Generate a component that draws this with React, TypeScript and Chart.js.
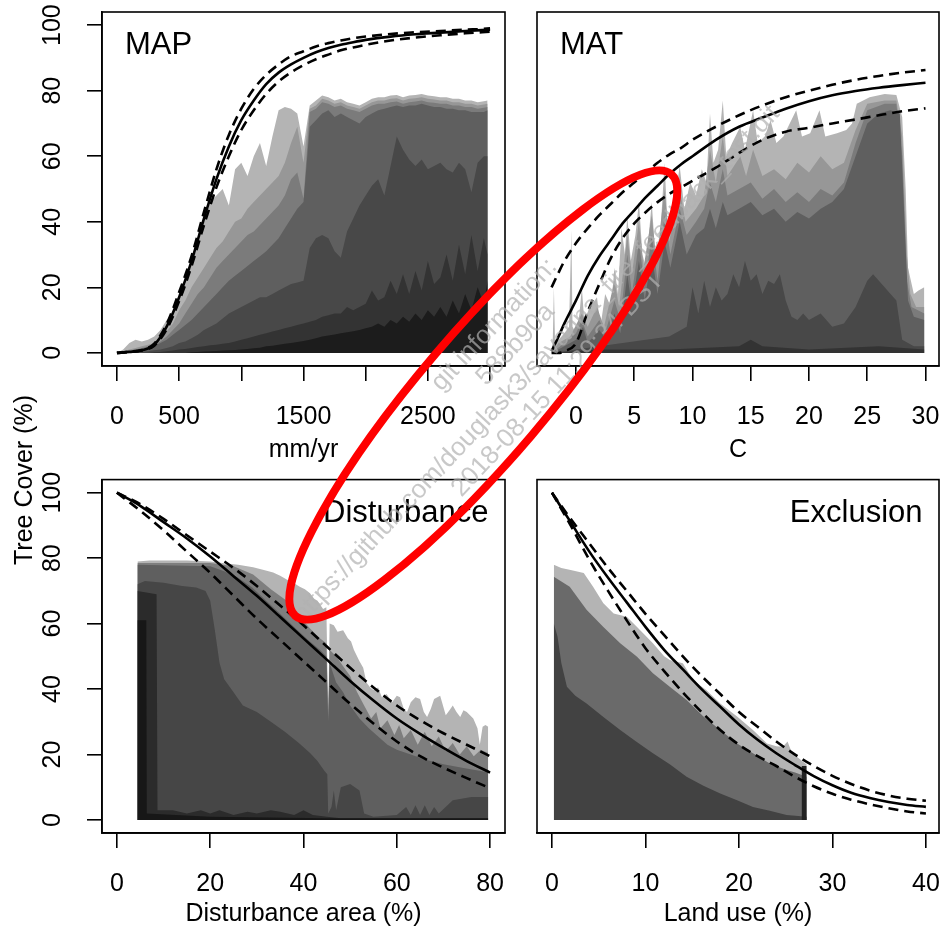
import React, { useEffect, useRef } from 'react';
import { Chart, registerables } from 'chart.js';

Chart.register(...registerables);

const FONT = '"Liberation Sans", Arial, Helvetica, sans-serif';

// ---------------- MAP panel ----------------
const MAP_X = [0,50,100,150,200,250,300,350,400,450,500,550,600,650,700,750,800,850,900,950,1000,1050,1100,1150,1200,1250,1300,1350,1400,1450,1500,1550,1600,1650,1700,1750,1800,1850,1900,1950,2000,2050,2100,2150,2200,2250,2300,2350,2400,2450,2500,2550,2600,2650,2700,2750,2800,2850,2900,2950,2980];
const MAP_A = [0,1,3,4,3.5,4,5,7,10,12, 17,21,27,33,40,46,48,50,45,56, 58,54,60,64,57,66,74,75,74.5,73, 63,75.5,77,78.5,78,77,77.5,76.5,76,75.5, 76.5,77.5,78,78,78.5,78.7,78,78.5,78.7,79, 78.5,78.3,78,78,77.5,77.5,77,77,76.5,76.8, 77];
const MAP_B = [0,0.5,1,1.5,2,2.5,3,4.5,6.5,9, 13,16,20,23,26,29,32,34,37,40, 41,44,46,48,50,52,54,58,64,69, 58,74.5,75.5,77.5,77,76,76.5,75.5,75,74.5, 75.5,76.5,77,77,77.5,77.7,77,77.5,77.7,78, 77.5,77.3,77,77,76.5,76.5,76,76,75.5,75.8, 76];
const MAP_C = [0,0,0.5,1,1.5,2,2.5,3.5,5,7, 9,12,15,18,20,23,26,28,30,32, 34,36,37,39,41,43,45,48,53,55, 47,73.5,74.5,76.5,76,75,75.5,74.5,74,73.5, 74.5,75.5,76,76,76.5,76.7,76,76.5,76.7,77, 76.5,76.3,76,76,75.5,75.5,75,75,74.5,74.8, 75];
const MAP_D = [0,0,0,0.5,1,1.5,2,3,4,5.5, 7,8.5,10,12,14,16,18,20,22,23.5, 25,26.5,28,29.5,31,33,35,38,41,44, 46,69,71,73,74,72,73,72,71,70, 72,73,74,74.5,75,75.5,75,75.5,75.5,76, 75.5,75,75,74.5,74.5,74,74,73.5,73.5,73.5, 74];
const MAP_E = [0,0,0,0,0.3,0.5,0.8,1,1.5,2, 3,3.5,4.5,5.5,7,8,9,10.5,12,13, 14,15,16,17,17,18,19,20,21,21.5, 22,32,35,36,35,31,29,37,41,45, 48,51,53,48,57,66,62,59,57,59, 56,57,58,56,55,58,56,49,58,60, 60];
const MAP_F = [0,0,0,0,0,0,0.2,0.3,0.5,0.7, 1,1.2,1.5,1.8,2,2.3,2.5,2.8,3,3.5, 4,4.5,5,5.5,6,6.5,7,7.5,8,8.5, 9,9.5,10,11,11.5,12,12,14,13,14, 15,19,16,17,22,18,24,18,25,19, 28,21,23,30,22,33,24,36,25,35, 30];
const MAP_G = [0,0,0,0,0,0,0,0,0,0, 0,0,0.2,0.3,0.4,0.5,0.6,0.7,0.8,0.9, 1,1.2,1.4,1.6,2,2.2,2.5,2.8,3,3.3, 3.6,4,4.5,5,5.3,5.6,6,6.3,6.6,7, 7.5,8,9,8,10,9,11,9.5,12,10, 13,11,14,11,16,12,18,13,20,15, 22];
const MAP_CURVE_X = [0,100,200,300,400,500,600,700,800,900,1000,1100,1200,1300,1400,1500,1600,1700,1800,1900,2000,2200,2400,2600,2800,3000];
const MAP_FIT = [0,0.3,0.8,2.5,8,17,28,41,53,63,71,77,82,85.5,88,90,91.7,93,94,94.8,95.5,96.5,97.2,97.7,98.2,98.6];
const MAP_UPPER = [0,0.35,0.9,2.8,8.8,18.5,29.5,43,56,66.5,74.5,80.5,84.8,88,90.5,92,93.5,94.5,95.3,96,96.5,97.3,97.8,98.2,98.6,99];
const MAP_LOWER = [0,0.25,0.7,2.2,7.2,15.8,26.5,39,50.5,60,68,74,79,82.8,85.6,87.8,89.6,91,92.3,93.2,94,95.3,96.2,96.9,97.5,98];
const MAP_TICKS = [0,500,1000,1500,2000,2500,3000];
const MAP_TICK_LABELS = ['0','500','','1500','','2500',''];

// ---------------- MAT panel ----------------
const MAT_L1: [number, number][] = [[-2.1,0],[-2,3],[-1.9,20],[-1.8,3],[-1.2,5],[-0.6,8],[-0.4,37.5],[-0.3,8],[0,6],[0.3,12],[0.5,20],[0.7,10],[1.2,14],[1.8,17],[2.1,8],[2.5,18],[3,14],[3.3,26],[3.6,18],[3.9,38],[4.2,30],[4.4,42],[4.7,28],[5.1,36],[5.4,46],[5.7,30],[6,26],[6.5,46],[6.8,30],[7.2,34],[7.6,58],[7.9,36],[8.4,44],[8.9,57],[9.3,44],[9.8,52],[10.3,48],[10.8,56],[11.2,52],[11.5,73],[11.8,58],[12.2,62],[12.6,77],[12.9,60],[13.4,64],[14.1,69],[14.5,62],[15.2,74],[15.6,64],[16.2,66],[16.7,71],[17.2,64],[17.8,66],[18.9,74],[19.4,66],[20.1,67],[20.9,74],[21.4,66],[22.4,67],[23.2,68],[23.7,70],[24.1,76],[25.2,78],[26.5,79],[27.5,78.7],[28,72],[28.3,50],[28.5,26],[29,18],[29.4,19],[29.9,20]];
const MAT_L2: [number, number][] = [[-2.1,0],[-1.5,3],[-0.5,5],[0.5,12],[1,8],[1.8,14],[2.4,8],[3.3,22],[3.7,14],[4.4,36],[4.8,24],[5.4,40],[5.8,26],[6.5,42],[6.9,28],[7.6,50],[8,34],[8.9,50],[9.4,40],[10.3,44],[11,48],[11.5,62],[12,52],[12.6,66],[13,54],[14.1,60],[14.6,54],[15.2,62],[16,54],[17,56],[18,53],[19,58],[20,55],[21,60],[22,56],[23,58],[24,68],[25,76],[26.5,77],[27.5,77],[28,66],[28.4,30],[28.7,18],[29.2,14],[29.9,14]];
const MAT_L3: [number, number][] = [[-2.1,0],[-1,3],[0,6],[0.5,10],[1,5],[2,10],[2.5,6],[3.3,16],[3.8,10],[4.4,30],[4.8,18],[5.4,34],[5.9,20],[6.5,36],[7,22],[7.6,42],[8.1,30],[8.9,44],[9.5,36],[10.3,40],[11,44],[11.5,52],[12,46],[12.6,56],[13,48],[14,50],[15,52],[16,47],[17,50],[18,46],[19,49],[20,46],[21,50],[22,48],[23,52],[24,64],[25,74],[26.5,76],[27.5,76],[28,60],[28.4,22],[28.8,14],[29.9,12]];
const MAT_L4: [number, number][] = [[-2.1,0],[-1,2],[0,4],[0.6,8],[1,3],[2,7],[2.6,4],[3.3,12],[3.8,6],[4.4,24],[4.8,14],[5.4,28],[5.9,16],[6.5,30],[7,18],[7.6,34],[8.1,26],[8.9,40],[9.5,30],[10.3,36],[11,38],[11.5,44],[12,38],[12.6,46],[13,42],[14,44],[15,46],[16,42],[17,44],[18,40],[19,43],[20,41],[21,44],[22,46],[23,50],[24,60],[25,70],[26,73],[27,74],[27.8,73],[28.2,40],[28.5,16],[29,11],[29.9,10]];
const MAT_L5: [number, number][] = [[-2.1,0],[0,1],[2,2],[4,3],[6,4],[8,5],[9.5,8],[10,20],[10.5,12],[11,22],[11.5,14],[12,20],[12.5,16],[13,18],[13.5,24],[14,20],[14.5,28],[15,22],[15.5,24],[16,18],[16.5,22],[17,21],[17.5,24],[18,16],[18.5,11],[19,10],[19.5,12],[20,10],[21,12],[22,8],[23,9],[24,14],[25,22],[25.5,24],[26,22],[27,18],[27.5,16],[28,4],[29,2],[29.9,2]];
const MAT_L6: [number, number][] = [[-2.1,0],[2,1],[8,1],[14,2],[15,4],[16,2],[20,1],[26,2],[29.9,1]];
const MAT_CURVE_X = [-2.1,-1.5,-1,0,1,2,3,4,5,6,7,8,9,10,12,14,16,18,20,22,24,26,28,30];
const MAT_FIT = [0.5,5,9,16,23.5,29.5,34.5,39.5,43.5,47.5,51,54.5,57.5,60,65,69,71.8,74.5,76.8,78.6,79.9,80.9,81.7,82.4];
const MAT_UPPER = [20,24.5,28,33.5,38,42,45.5,49,52,55,58,60.5,62.5,65,69,72.5,75.5,78,80,81.8,83.3,84.5,85.5,86.3];
const MAT_LOWER = [0,0,0.5,3,12.5,21,29,35,39.5,43,46,48.5,50.5,52.5,56.5,61,65,67.5,68.7,70,71.2,72.5,73.7,74.6];
const MAT_TICKS = [0,5,10,15,20,25,30];

// ---------------- Disturbance panel ----------------
const DIST_L1: [number, number][] = [[4.4,79],[7,79.3],[10,79.3],[15,79.3],[20,79],[23.5,78.4],[26,78],[29.2,77.2],[31.5,76.4],[33.5,75.6],[35,74.6],[36.4,73.5],[38,72.3],[39.2,71.3],[40.3,70.5],[41.4,69.3],[42.3,67.5],[43,67],[44.2,64.5],[44.9,65],[45.3,32],[45.6,60],[46.5,59.5],[47.3,57.5],[48.5,58],[49.5,55.5],[50.2,54.5],[50.8,52],[52,48.5],[52.8,46.5],[53.5,42],[54.3,40.5],[55,39.7],[56,40.5],[56.8,37.5],[57.8,38.5],[59,36],[60,38],[60.7,37.5],[61.5,34],[62.2,33],[63,36],[64,37.5],[65,37],[65.8,33],[66.5,31.5],[67.3,34],[68,37],[69.3,38],[70.5,32],[71.3,33.5],[72,35],[72.8,33],[73.6,31.5],[74.3,33.5],[75,33],[76.4,31],[77.3,28],[77.8,23],[78.4,28.5],[79,29],[79.6,28.5]];
const DIST_L2: [number, number][] = [[4.4,78.5],[20,78.5],[25,77.5],[29.2,75],[33,70.5],[36.4,67],[39,62.5],[41.4,58.5],[43.5,55.5],[44.9,54],[45.3,31],[45.6,52],[47,50],[48.5,47],[50,44],[51.5,39],[53,35],[54.5,31],[55.6,33],[56.5,28],[58,30.5],[59.5,26],[60.5,29],[61.5,25],[63,27.5],[64.5,23],[66,27],[67.5,22.5],[69,25.5],[70.5,21],[72,23.5],[73.5,20],[75,22.5],[76.5,19.5],[78,21.5],[79.6,20.5]];
const DIST_L3: [number, number][] = [[4.4,78],[20,77.5],[23,76],[26,74],[29,71],[32,67],[35,63],[38,59],[41,55],[43.5,52],[44.9,50],[45.3,30],[45.6,48],[47,42],[48.5,39],[50,35],[52,31],[54,28],[56,25.5],[58,23],[60,21.5],[63,20],[66,18.5],[70,17],[74,16],[78,15],[79.6,14.5]];
const DIST_L4: [number, number][] = [[4.4,72],[6,73],[10,72.5],[14,71.5],[17,71],[19,70],[20,67],[21,58],[22,48],[23,43],[25,39],[27,35],[30,33],[33,30],[36,27],[39,23.5],[41.4,20.5],[43,18],[44.5,15],[45.1,14],[45.3,2],[46,4],[46.5,9],[47,3],[48,10],[50,11],[52,9],[53,2],[55,1],[60,1.5],[62,4],[63,1.5],[64,4.5],[65,1.5],[66,4.5],[67,1.5],[68,4],[69,2],[72,6],[76,7],[79.6,7]];
const DIST_L5: [number, number][] = [[4.4,70],[8.5,69],[8.7,3],[12,3],[15,2],[18,3],[20,2],[22,3],[25,1.5],[28,2.5],[30,2],[33,3],[35,2.5],[38,1.5],[40,3],[42,1.5],[45,1],[48,0.5],[79.6,0.5]];
const DIST_L6: [number, number][] = [[4.4,61],[6.3,61],[6.4,2],[20,1],[45,0.5],[79.6,0.5]];
const DIST_CURVE_X = [0,5,10,15,20,25,30,35,40,45,50,55,60,65,70,75,80];
const DIST_FIT = [100,96,91,86,80.5,74.5,68.5,62,55.5,49,42.5,36.5,31,26.3,22,18,14.5];
const DIST_UPPER = [100,96.5,92,87,82,77,71.5,65.5,59.5,53,46.5,40.5,35,30.5,26.5,23,19.5];
const DIST_LOWER = [100,94.5,88.5,82,75.5,68.5,61.5,55,48.5,42,35.5,29.5,24,19.5,16,12.8,9.7];
const DIST_TICKS = [0,20,40,60,80];

// ---------------- Exclusion panel ----------------
const EXCL_L1: [number, number][] = [[0.2,78],[1,77],[2,76.4],[3.4,75.5],[4.4,71.3],[5.5,66.2],[6.6,63.1],[8,62.1],[9.1,59],[10.8,54],[12,50],[12.6,48.9],[14,47.9],[15.1,42.8],[16.5,39.7],[18,35.6],[19.8,31.6],[21.5,27.5],[23,23.4],[24,22.5],[24.7,22.4],[25.2,24],[25.6,21],[26.2,19.3],[27.1,17.3],[27.25,17]];
const EXCL_L2: [number, number][] = [[0.2,74.3],[1.9,71.3],[3.7,64.2],[5.5,59],[7.3,54],[9.1,49.9],[10.8,44.8],[12.6,40.7],[14.4,36.7],[16.2,31.6],[18,27.5],[19.8,23.4],[21.5,20.4],[23.3,17.3],[25.1,15.3],[26,14.5],[27.25,13.2]];
const EXCL_L3: [number, number][] = [[0.2,60],[0.6,56],[1,48],[1.6,40.7],[2.5,38],[3.7,35.6],[5.5,31.5],[7.3,27.5],[9,24],[10.8,20.4],[12.6,17],[14.4,13.2],[16.2,10.5],[18,8.1],[19.8,6],[21.5,4],[23.3,2.8],[25.1,1.5],[27.25,1]];
const EXCL_L4: [number, number][] = [[26.7,16.5],[27.25,16.5]];
const EXCL_CURVE_X = [0,2,4,6,8,10,12,14,16,18,20,22,24,26,28,30,32,34,36,38,40];
const EXCL_FIT = [100,91,82,74,66.5,59,52,46,40,34.6,29.2,24.5,20.4,16.8,13.4,10.6,8.3,6.7,5.5,4.6,4];
const EXCL_UPPER = [100,92,84.5,77,70,63,56.5,50,44,38.5,33,28.5,24,20,16.5,13.5,11,9,7.5,6.5,5.9];
const EXCL_LOWER = [100,90,79.5,70,61,52.5,45.5,39,33,27.5,23,19.5,16.5,13.2,10.3,8,6.2,4.8,3.6,2.6,2];
const EXCL_TICKS = [0,10,20,30,40];

const Y_TICKS = [0,20,40,60,80,100];
const WATERMARK = ['git information:', '588b90a', 'https://github.com/douglask3/savanna_fire_feedback_test.git', '2018-08-15 11:29:34 BST'];

// ---------------- helpers ----------------
type Pt = { x: number; y: number };
const zip = (xs: number[], ys: number[]): Pt[] => xs.map((x, i) => ({ x, y: ys[i] }));
const pairs = (p: [number, number][]): Pt[] => p.map(([x, y]) => ({ x, y }));

const boxPlugin = {
  id: 'panelBox',
  afterDraw(chart: any, _args: any, opts: any) {
    const { ctx, chartArea: a } = chart;
    ctx.save();
    ctx.strokeStyle = '#000';
    ctx.lineWidth = 1.6;
    ctx.strokeRect(a.left, a.top, a.right - a.left, a.bottom - a.top);
    ctx.fillStyle = '#000';
    ctx.font = `31px ${FONT}`;
    ctx.textBaseline = 'alphabetic';
    if (opts.align === 'left') {
      ctx.textAlign = 'left';
      ctx.fillText(opts.text, a.left + 23, a.top + 42);
    } else {
      ctx.textAlign = 'right';
      ctx.fillText(opts.text, a.right - 16.5, a.top + 42);
    }
    ctx.restore();
  },
};

type Spec = {
  fills: { pts: Pt[]; color: string }[];
  fit: Pt[];
  upper: Pt[];
  lower: Pt[];
  xMin: number;
  xMax: number;
  xTicks: number[];
  xLabels: string[];
  xTitle: string;
  titlePad: number;
  showY: boolean;
  padding: { left: number; top: number; right: number; bottom: number };
  xAxisHeight: number;
  title: string;
  titleAlign: 'left' | 'right';
};

function makeConfig(s: Spec): any {
  const lineDs = (pts: Pt[], dash: number[]) => ({
    data: pts,
    borderColor: '#000',
    borderWidth: 2.6,
    borderDash: dash,
    pointRadius: 0,
    fill: false,
    cubicInterpolationMode: 'monotone',
  });
  const fillDs = [...s.fills].reverse().map((f) => ({
    data: f.pts,
    backgroundColor: f.color,
    borderColor: 'rgba(0,0,0,0)',
    borderWidth: 0,
    pointRadius: 0,
    fill: 'origin',
    tension: 0,
  }));
  const tickFont = { family: FONT, size: 25, lineHeight: 1.2 };
  return {
    type: 'line',
    data: {
      datasets: [lineDs(s.fit, []), lineDs(s.upper, [10, 6]), lineDs(s.lower, [10, 6]), ...fillDs],
    },
    plugins: [boxPlugin],
    options: {
      responsive: false,
      animation: false,
      devicePixelRatio: 1,
      events: [],
      layout: { padding: s.padding },
      plugins: {
        legend: { display: false },
        tooltip: { enabled: false },
        panelBox: { text: s.title, align: s.titleAlign },
      },
      scales: {
        x: {
          type: 'linear',
          min: s.xMin,
          max: s.xMax,
          afterBuildTicks: (sc: any) => {
            sc.ticks = s.xTicks.map((v) => ({ value: v }));
          },
          afterFit: (sc: any) => {
            sc.height = s.xAxisHeight;
            sc.paddingLeft = 0;
            sc.paddingRight = 0;
          },
          ticks: {
            autoSkip: false,
            maxRotation: 0,
            minRotation: 0,
            padding: 21,
            color: '#000',
            font: tickFont,
            callback: (_v: any, i: number) => s.xLabels[i],
          },
          grid: { drawOnChartArea: false, drawTicks: true, tickLength: 15, color: '#000', lineWidth: 1.6 },
          border: { display: true, color: '#000', width: 1.6 },
          title: {
            display: true,
            text: s.xTitle,
            color: '#000',
            font: { family: FONT, size: 25, lineHeight: 1 },
            padding: { top: 0, bottom: s.titlePad },
          },
        },
        y: {
          type: 'linear',
          min: -4,
          max: 104,
          display: s.showY,
          afterBuildTicks: (sc: any) => {
            sc.ticks = Y_TICKS.map((v) => ({ value: v }));
          },
          ...(s.showY
            ? {
                afterFit: (sc: any) => {
                  sc.width = 102;
                  sc.paddingTop = 0;
                  sc.paddingBottom = 0;
                },
              }
            : {}),
          ticks: {
            autoSkip: false,
            minRotation: 90,
            maxRotation: 90,
            crossAlign: 'center',
            padding: 13,
            color: '#000',
            font: tickFont,
          },
          grid: { drawOnChartArea: false, drawTicks: true, tickLength: 15, color: '#000', lineWidth: 1.6 },
          border: { display: true, color: '#000', width: 1.6 },
        },
      },
    },
  };
}

const GREYS = ['#b4b4b4', '#979797', '#7b7b7b', '#5f5f5f', '#484848', '#333333', '#1c1c1c'];

const SPECS: { left: number; top: number; width: number; height: number; spec: Spec }[] = [
  {
    left: 0, top: 0, width: 520, height: 470,
    spec: {
      fills: [MAP_A, MAP_B, MAP_C, MAP_D, MAP_E, MAP_F, MAP_G].map((ys, i) => ({ pts: zip(MAP_X, ys), color: GREYS[i] })),
      fit: zip(MAP_CURVE_X, MAP_FIT),
      upper: zip(MAP_CURVE_X, MAP_UPPER),
      lower: zip(MAP_CURVE_X, MAP_LOWER),
      xMin: -120, xMax: 3120,
      xTicks: MAP_TICKS, xLabels: MAP_TICK_LABELS, xTitle: 'mm/yr', titlePad: 7.5,
      showY: true,
      padding: { left: 0, top: 12, right: 15, bottom: 0 },
      xAxisHeight: 104,
      title: 'MAP', titleAlign: 'left',
    },
  },
  {
    left: 520, top: 0, width: 421, height: 470,
    spec: {
      fills: [MAT_L1, MAT_L2, MAT_L3, MAT_L4, MAT_L5, MAT_L6].map((p, i) => ({ pts: pairs(p), color: GREYS[i] })),
      fit: zip(MAT_CURVE_X, MAT_FIT),
      upper: zip(MAT_CURVE_X, MAT_UPPER),
      lower: zip(MAT_CURVE_X, MAT_LOWER),
      xMin: -3.35, xMax: 31.16,
      xTicks: MAT_TICKS, xLabels: MAT_TICKS.map(String), xTitle: 'C', titlePad: 7.5,
      showY: false,
      padding: { left: 17, top: 12, right: 2, bottom: 0 },
      xAxisHeight: 104,
      title: 'MAT', titleAlign: 'left',
    },
  },
  {
    left: 0, top: 470, width: 520, height: 460,
    spec: {
      fills: [
        { pts: pairs(DIST_L1), color: '#b4b4b4' },
        { pts: pairs(DIST_L2), color: '#7e7e7e' },
        { pts: pairs(DIST_L3), color: '#5f5f5f' },
        { pts: pairs(DIST_L4), color: '#464646' },
        { pts: pairs(DIST_L5), color: '#2b2b2b' },
        { pts: pairs(DIST_L6), color: '#171717' },
      ],
      fit: zip(DIST_CURVE_X, DIST_FIT),
      upper: zip(DIST_CURVE_X, DIST_UPPER),
      lower: zip(DIST_CURVE_X, DIST_LOWER),
      xMin: -3.2, xMax: 83.2,
      xTicks: DIST_TICKS, xLabels: DIST_TICKS.map(String), xTitle: 'Disturbance area (%)', titlePad: 3,
      showY: true,
      padding: { left: 0, top: 9.6, right: 15, bottom: 0 },
      xAxisHeight: 96.9,
      title: 'Disturbance', titleAlign: 'right',
    },
  },
  {
    left: 520, top: 470, width: 421, height: 460,
    spec: {
      fills: [
        { pts: pairs(EXCL_L1), color: '#b4b4b4' },
        { pts: pairs(EXCL_L2), color: '#6a6a6a' },
        { pts: pairs(EXCL_L3), color: '#424242' },
        { pts: pairs(EXCL_L4), color: '#222222' },
      ],
      fit: zip(EXCL_CURVE_X, EXCL_FIT),
      upper: zip(EXCL_CURVE_X, EXCL_UPPER),
      lower: zip(EXCL_CURVE_X, EXCL_LOWER),
      xMin: -1.6, xMax: 41.4,
      xTicks: EXCL_TICKS, xLabels: EXCL_TICKS.map(String), xTitle: 'Land use (%)', titlePad: 3,
      showY: false,
      padding: { left: 17, top: 9.6, right: 2, bottom: 0 },
      xAxisHeight: 96.9,
      title: 'Exclusion', titleAlign: 'right',
    },
  },
];

function Panel({ left, top, width, height, spec }: { left: number; top: number; width: number; height: number; spec: Spec }) {
  const ref = useRef<HTMLCanvasElement | null>(null);
  useEffect(() => {
    if (!ref.current) return;
    const chart = new Chart(ref.current, makeConfig(spec));
    return () => chart.destroy();
  }, []);
  return (
    <canvas
      ref={ref}
      width={width}
      height={height}
      style={{ position: 'absolute', left, top, width, height }}
    />
  );
}

export default function App() {
  return (
    <div style={{ position: 'absolute', left: 0, top: 0, width: 941, height: 930, background: '#fff', overflow: 'hidden' }}>
      {SPECS.map((p, i) => (
        <Panel key={i} {...p} />
      ))}
      <div
        style={{
          position: 'absolute',
          left: 23,
          top: 480,
          transform: 'translate(-50%, -50%) rotate(-90deg)',
          fontFamily: FONT,
          fontSize: 25,
          lineHeight: 1,
          whiteSpace: 'nowrap',
          color: '#000',
        }}
      >
        Tree Cover (%)
      </div>
      <svg width={941} height={930} style={{ position: 'absolute', left: 0, top: 0, pointerEvents: 'none' }}>
        <g transform="translate(493 323.5) rotate(-46.9)" fill="#b0b0b0" fillOpacity={0.7} fontFamily={FONT} fontSize={26} textAnchor="middle">
          {WATERMARK.map((t, i) => (
            <text key={i} x={0} y={i * 29} dominantBaseline="central">
              {t}
            </text>
          ))}
        </g>
        <ellipse cx={483.3} cy={395} rx={290} ry={63} transform="rotate(-49.6 483.3 395)" fill="none" stroke="#ff0000" strokeWidth={8} />
      </svg>
    </div>
  );
}
